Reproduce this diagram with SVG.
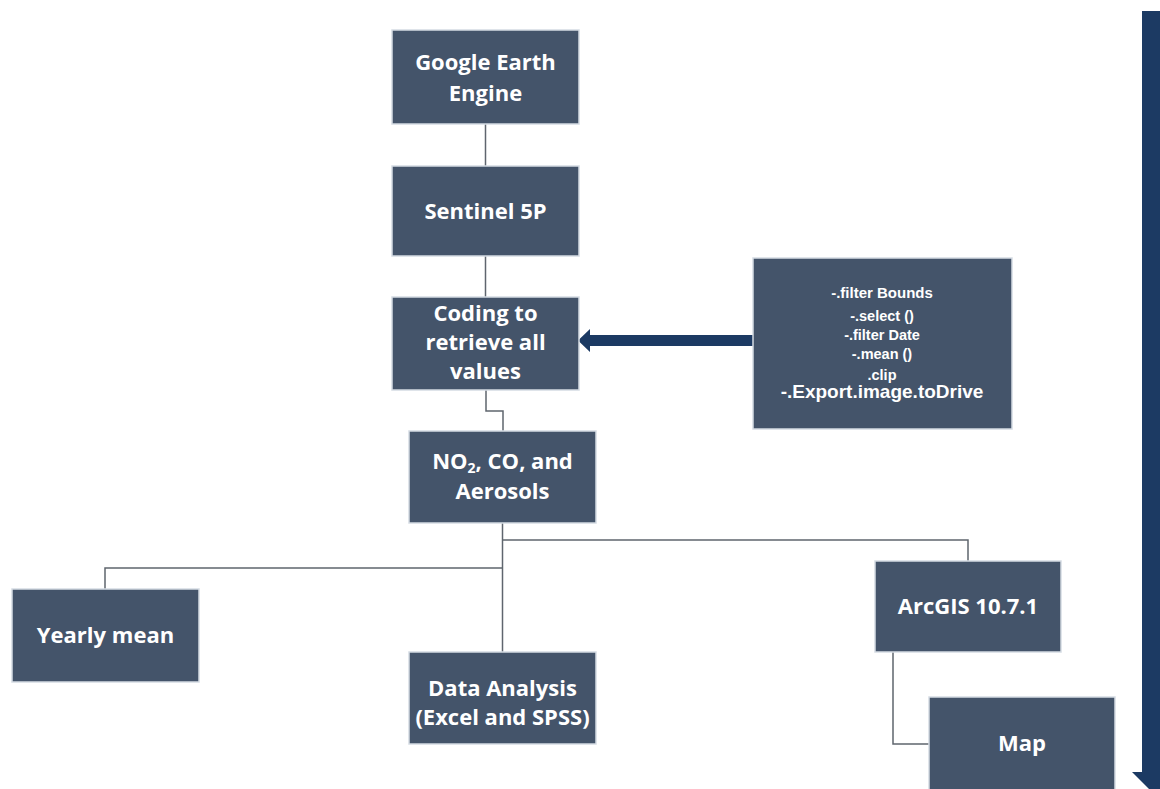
<svg xmlns="http://www.w3.org/2000/svg" width="1160" height="789" viewBox="0 0 1160 789">
  <style>
    .node { fill: #44546a; stroke: #d5dbe3; stroke-width: 1.5; }
    .lbl { font-family: "Open Sans", "Noto Sans", sans-serif; font-weight: bold; font-size: 22px; fill: #ffffff; text-anchor: middle; }
    .code { font-family: "Liberation Sans", Arial, sans-serif; font-weight: bold; font-size: 15px; fill: #ffffff; text-anchor: middle; }
    .conn { fill: none; stroke: #5f656e; stroke-width: 1.5; }
    .bigarrow { fill: #1c3a63; }
  </style>
  <rect width="1160" height="789" fill="#ffffff"/>

  <g id="connectors">
    <line class="conn" x1="485.5" y1="124" x2="485.5" y2="166"/>
    <line class="conn" x1="485.5" y1="256" x2="485.5" y2="297"/>
    <polyline class="conn" points="486,390 486,411 503,411 503,431"/>
    <line class="conn" x1="502.5" y1="523" x2="502.5" y2="652"/>
    <polyline class="conn" points="502.5,540 968,540 968,561"/>
    <polyline class="conn" points="502.5,568 105,568 105,589"/>
    <polyline class="conn" points="893,652 893,744 929,744"/>
    <polygon class="bigarrow" points="753,335 590,335 590,329 578,340.5 590,352 590,346 753,346"/>
    <polygon class="bigarrow" points="1142,11 1168,11 1168,772 1178,772 1155,795 1132,772 1142,772"/>
  </g>

  <g id="gee">
    <rect class="node" x="392" y="30" width="187" height="94"/>
    <text class="lbl" x="485.5" y="70">Google Earth</text>
    <text class="lbl" x="485.5" y="101">Engine</text>
  </g>
  <g id="sentinel">
    <rect class="node" x="392" y="166" width="187" height="90"/>
    <text class="lbl" x="485.5" y="219">Sentinel 5P</text>
  </g>
  <g id="coding">
    <rect class="node" x="392" y="297" width="187" height="93"/>
    <text class="lbl" x="485.5" y="321">Coding to</text>
    <text class="lbl" x="485.5" y="350">retrieve all</text>
    <text class="lbl" x="485.5" y="379">values</text>
  </g>
  <g id="pollutants">
    <rect class="node" x="409" y="431" width="187" height="92"/>
    <text class="lbl" x="502.5" y="469">NO<tspan style="font-size:14px" dy="4">2</tspan><tspan dy="-4">, CO, and</tspan></text>
    <text class="lbl" x="502.5" y="499">Aerosols</text>
  </g>
  <g id="yearly">
    <rect class="node" x="12" y="589" width="187" height="93"/>
    <text class="lbl" x="105.5" y="643">Yearly mean</text>
  </g>
  <g id="analysis">
    <rect class="node" x="409" y="652" width="187" height="92"/>
    <text class="lbl" x="502.5" y="696">Data Analysis</text>
    <text class="lbl" x="502.5" y="725">(Excel and SPSS)</text>
  </g>
  <g id="arcgis">
    <rect class="node" x="875" y="561" width="186" height="91"/>
    <text class="lbl" x="968" y="614">ArcGIS 10.7.1</text>
  </g>
  <g id="map">
    <rect class="node" x="929" y="697" width="186" height="96"/>
    <text class="lbl" x="1022" y="751">Map</text>
  </g>
  <g id="codebox">
    <rect class="node" x="753" y="258" width="259" height="171"/>
    <text class="code" x="882" y="298">-.filter Bounds</text>
    <text class="code" x="882" y="321" style="font-size:14.5px">-.select ()</text>
    <text class="code" x="882" y="340" style="font-size:14.5px">-.filter Date</text>
    <text class="code" x="882" y="359" style="font-size:14.5px">-.mean ()</text>
    <text class="code" x="882" y="380" style="font-size:14.5px">.clip</text>
    <text class="code" x="882" y="398" style="font-size:19px">-.Export.image.toDrive</text>
  </g>
</svg>
